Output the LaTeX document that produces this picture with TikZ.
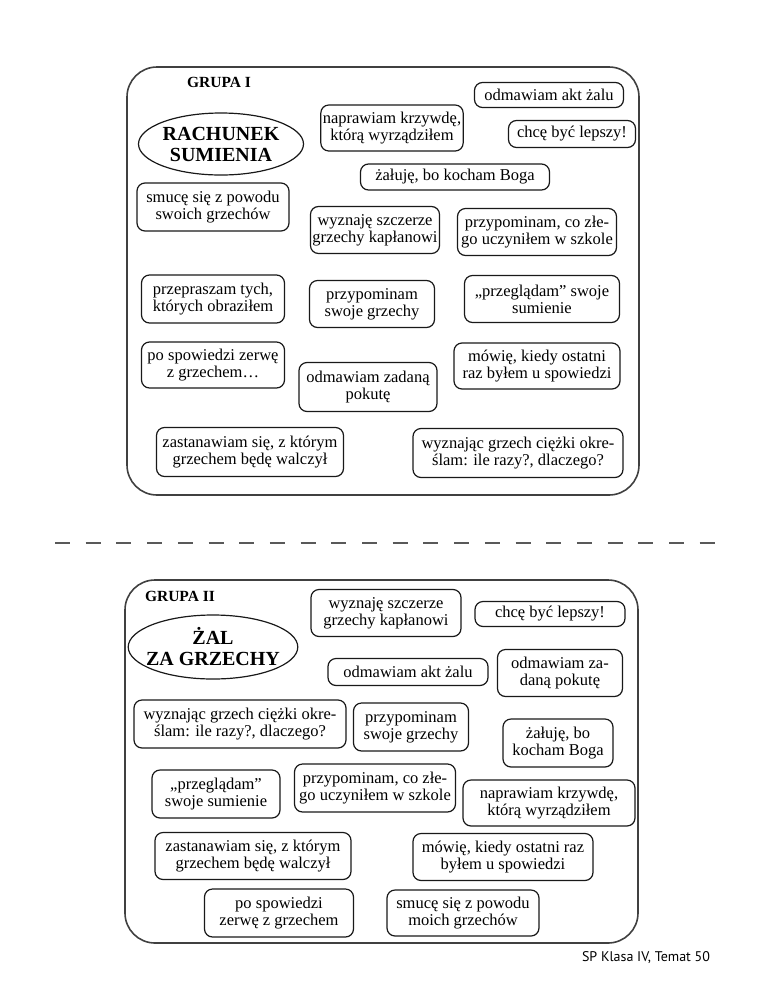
\documentclass[tikz,border=0pt]{standalone}
\usepackage{fontspec}
\setmainfont{Liberation Serif}
\newfontfamily\stopka{PT Sans}
\usepackage{xcolor}
\usepackage{tikz}
\usetikzlibrary{shapes.geometric}

\begin{document}
\begin{tikzpicture}[
    x=1pt, y=-1pt,
    ramka/.style={draw=black!75, line width=1.6pt, rounded corners=30pt},
    kafelek/.style={draw=black!90, line width=1.2pt, rounded corners=8pt, align=center,
        inner sep=2pt, font=\fontsize{16.5}{17}\selectfont},
    temat/.style={draw=black!90, ellipse, line width=1.2pt, align=center, inner sep=0pt,
        font=\bfseries\fontsize{20}{21}\selectfont},
    naglowek/.style={font=\bfseries\fontsize{15.5}{16}\selectfont},
    ciecie/.style={draw=black!65, line width=2.5pt, dash pattern=on 15pt off 15.7pt}
]
\useasboundingbox (0,0) rectangle (768,994);

% GRUPA I
\draw[ramka] (127,67) rectangle (639,495);
\node[naglowek] (grupa1) at (219,82) {GRUPA I};
\node[temat, minimum width=164pt, minimum height=62pt] (rachunek) at (221,144) {RACHUNEK\\SUMIENIA};
\node[kafelek, minimum width=149pt, minimum height=25pt] (akt1) at (549,95) {odmawiam akt żalu};
\node[kafelek, minimum width=141pt, minimum height=46pt] (naprawiam1) at (392,128) {naprawiam krzywdę,\\którą wyrządziłem};
\node[kafelek, minimum width=127pt, minimum height=27pt] (lepszy1) at (572,134) {chcę być lepszy!};
\node[kafelek, minimum width=189pt, minimum height=26pt] (zaluje1) at (455,177) {żałuję, bo kocham Boga};
\node[kafelek, minimum width=152pt, minimum height=48pt] (smuce1) at (213,207) {smucę się z powodu\\swoich grzechów};
\node[kafelek, minimum width=125pt, minimum height=47pt] (wyznaje1) at (375,230) {wyznaję szczerze\\grzechy kapłanowi};
\node[kafelek, minimum width=159pt, minimum height=47pt] (przypzle1) at (537,232) {przypominam, co złe-\\go uczyniłem w szkole};
\node[kafelek, minimum width=143pt, minimum height=48pt] (przepraszam1) at (213,299) {przepraszam tych,\\których obraziłem};
\node[kafelek, minimum width=125pt, minimum height=47pt] (przyp1) at (372,304) {przypominam\\swoje grzechy};
\node[kafelek, minimum width=155pt, minimum height=47pt] (przeglad1) at (542,299) {„przeglądam” swoje\\sumienie};
\node[kafelek, minimum width=143pt, minimum height=46pt] (zerwe1) at (213,365) {po spowiedzi zerwę\\z grzechem…};
\node[kafelek, minimum width=138pt, minimum height=49pt] (pokuta1) at (368,387) {odmawiam zadaną\\pokutę};
\node[kafelek, minimum width=166pt, minimum height=46pt] (mowie1) at (537,366) {mówię, kiedy ostatni\\raz byłem u spowiedzi};
\node[kafelek, minimum width=187pt, minimum height=49pt] (walcze1) at (250,452) {zastanawiam się, z którym\\grzechem będę walczył};
\node[kafelek, minimum width=210pt, minimum height=49pt] (ciezki1) at (518,453) {wyznając grzech ciężki okre-\\ślam: ile razy?, dlaczego?};

% linia ciecia
\coordinate (cieciel) at (55,543);
\coordinate (ciecier) at (715,543);
\draw[ciecie] (cieciel) -- (ciecier);

% GRUPA II
\draw[ramka] (125,580) rectangle (638,943);
\node[naglowek] (grupa2) at (180,596) {GRUPA II};
\node[temat, inner xsep=-7pt, minimum width=158pt, minimum height=64pt] (zal) at (213,647) {ŻAL\\ZA GRZECHY};
\node[kafelek, minimum width=150pt, minimum height=47pt] (wyznaje2) at (386,613) {wyznaję szczerze\\grzechy kapłanowi};
\node[kafelek, minimum width=150pt, minimum height=25pt] (lepszy2) at (550,614) {chcę być lepszy!};
\node[kafelek, minimum width=160pt, minimum height=27pt] (akt2) at (408,672) {odmawiam akt żalu};
\node[kafelek, minimum width=125pt, minimum height=47pt] (pokuta2) at (560,673) {odmawiam za-\\daną pokutę};
\node[kafelek, minimum width=212pt, minimum height=48pt] (ciezki2) at (240,724) {wyznając grzech ciężki okre-\\ślam: ile razy?, dlaczego?};
\node[kafelek, minimum width=115pt, minimum height=48pt] (przyp2) at (411,727) {przypominam\\swoje grzechy};
\node[kafelek, minimum width=110pt, minimum height=48pt] (zaluje2) at (558,743) {żałuję, bo\\kocham Boga};
\node[kafelek, minimum width=128pt, minimum height=48pt] (przeglad2) at (216,794) {„przeglądam”\\swoje sumienie};
\node[kafelek, minimum width=161pt, minimum height=48pt] (przypzle2) at (375,788) {przypominam, co złe-\\go uczyniłem w szkole};
\node[kafelek, minimum width=172pt, minimum height=46pt] (naprawiam2) at (549,803) {naprawiam krzywdę,\\którą wyrządziłem};
\node[kafelek, minimum width=196pt, minimum height=47pt] (walcze2) at (253,856) {zastanawiam się, z którym\\grzechem będę walczył};
\node[kafelek, minimum width=180pt, minimum height=47pt] (mowie2) at (503,857) {mówię, kiedy ostatni raz\\byłem u spowiedzi};
\node[kafelek, minimum width=149pt, minimum height=48pt] (zerwe2) at (279,913) {po spowiedzi\\zerwę z grzechem};
\node[kafelek, minimum width=152pt, minimum height=46pt] (smuce2) at (463,913) {smucę się z powodu\\moich grzechów};

\node[font=\stopka\fontsize{14}{16}\selectfont] (stopka) at (646,958) {SP Klasa IV, Temat 50};

\end{tikzpicture}
\end{document}
